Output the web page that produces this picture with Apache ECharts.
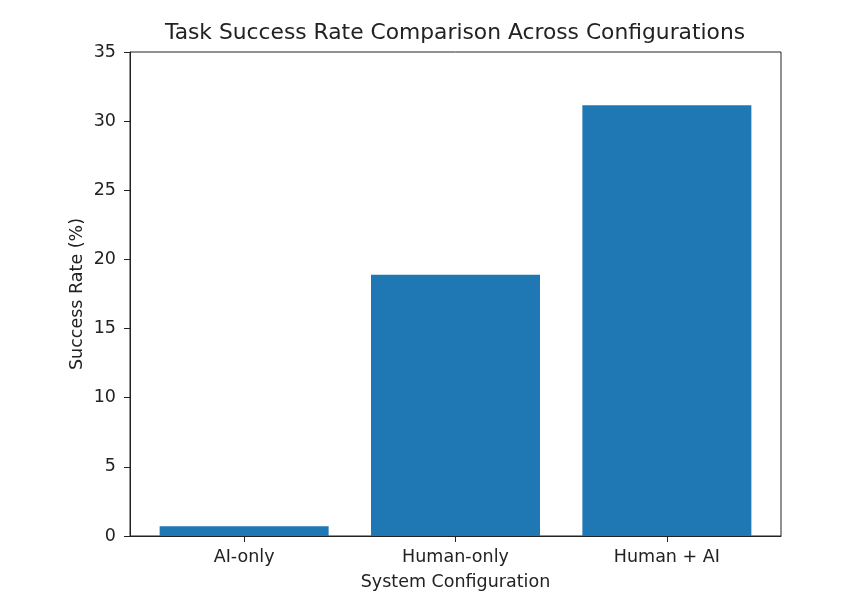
<!DOCTYPE html>
<html>
<head>
    <meta charset="utf8">
    <title>ECharts</title>
    <script src="https://cdn.jsdelivr.net/npm/echarts@6/dist/echarts.min.js"></script>
</head>
<body style="margin:0;background:#fff">
    <div id="main" style="width: 850px;height:613px;"></div>
    <script type="text/javascript">
    // data
    var configs = ['AI-only', 'Human-only', 'Human + AI'];
    var successRates = [0.7, 18.9, 31.15];
    var yTicks = [0, 5, 10, 15, 20, 25, 30, 35];

    var font = 'DejaVu Sans';
    var barData = [];
    for (var i = 0; i < configs.length; i++) {
        barData.push([i, successRates[i]]);
    }

    var myChart = echarts.init(document.getElementById('main'));
    var option = {
        animation: false,
        title: {
            text: 'Task Success Rate Comparison Across Configurations',
            left: 450, top: 17, textAlign: 'center',
            textStyle: { fontFamily: font, fontWeight: 'normal', fontSize: 21.8, color: '#222' }
        },
        grid: {
            left: 130, top: 52, width: 651, height: 484,
            show: true, borderColor: '#222', borderWidth: 1, backgroundColor: '#fff'
        },
        xAxis: {
            type: 'value',
            min: -0.54, max: 2.54,
            name: 'System Configuration',
            nameLocation: 'middle', nameGap: 37,
            nameTextStyle: { fontFamily: font, fontSize: 17.5, color: '#222' },
            splitLine: { show: false },
            axisLine: { show: true, onZero: false, lineStyle: { color: '#222' } },
            axisTick: { show: true, customValues: [0, 1, 2], length: 6, lineStyle: { color: '#222' } },
            axisLabel: {
                customValues: [0, 1, 2],
                fontFamily: font, fontSize: 17.5, color: '#222', margin: 12,
                formatter: function (v) { return configs[Math.round(v)] || ''; }
            }
        },
        yAxis: {
            type: 'value',
            min: 0, max: 35, interval: 5,
            name: 'Success Rate (%)',
            nameLocation: 'middle', nameGap: 44,
            nameMoveOverlap: false,
            nameTextStyle: { fontFamily: font, fontSize: 17.5, color: '#222' },
            splitLine: { show: false },
            axisLine: { show: true, onZero: false, lineStyle: { color: '#222' } },
            axisTick: { show: true, length: 6, lineStyle: { color: '#222' } },
            axisLabel: {
                fontFamily: font, fontSize: 17.5, color: '#222', margin: 14,
                formatter: function (v) { return yTicks.indexOf(v) >= 0 ? String(v) : ''; }
            }
        },
        series: [{
            type: 'bar',
            data: barData,
            barWidth: 169,
            itemStyle: { color: '#1f77b4' }
        }]
    };
    myChart.setOption(option);
    </script>
</body>
</html>
